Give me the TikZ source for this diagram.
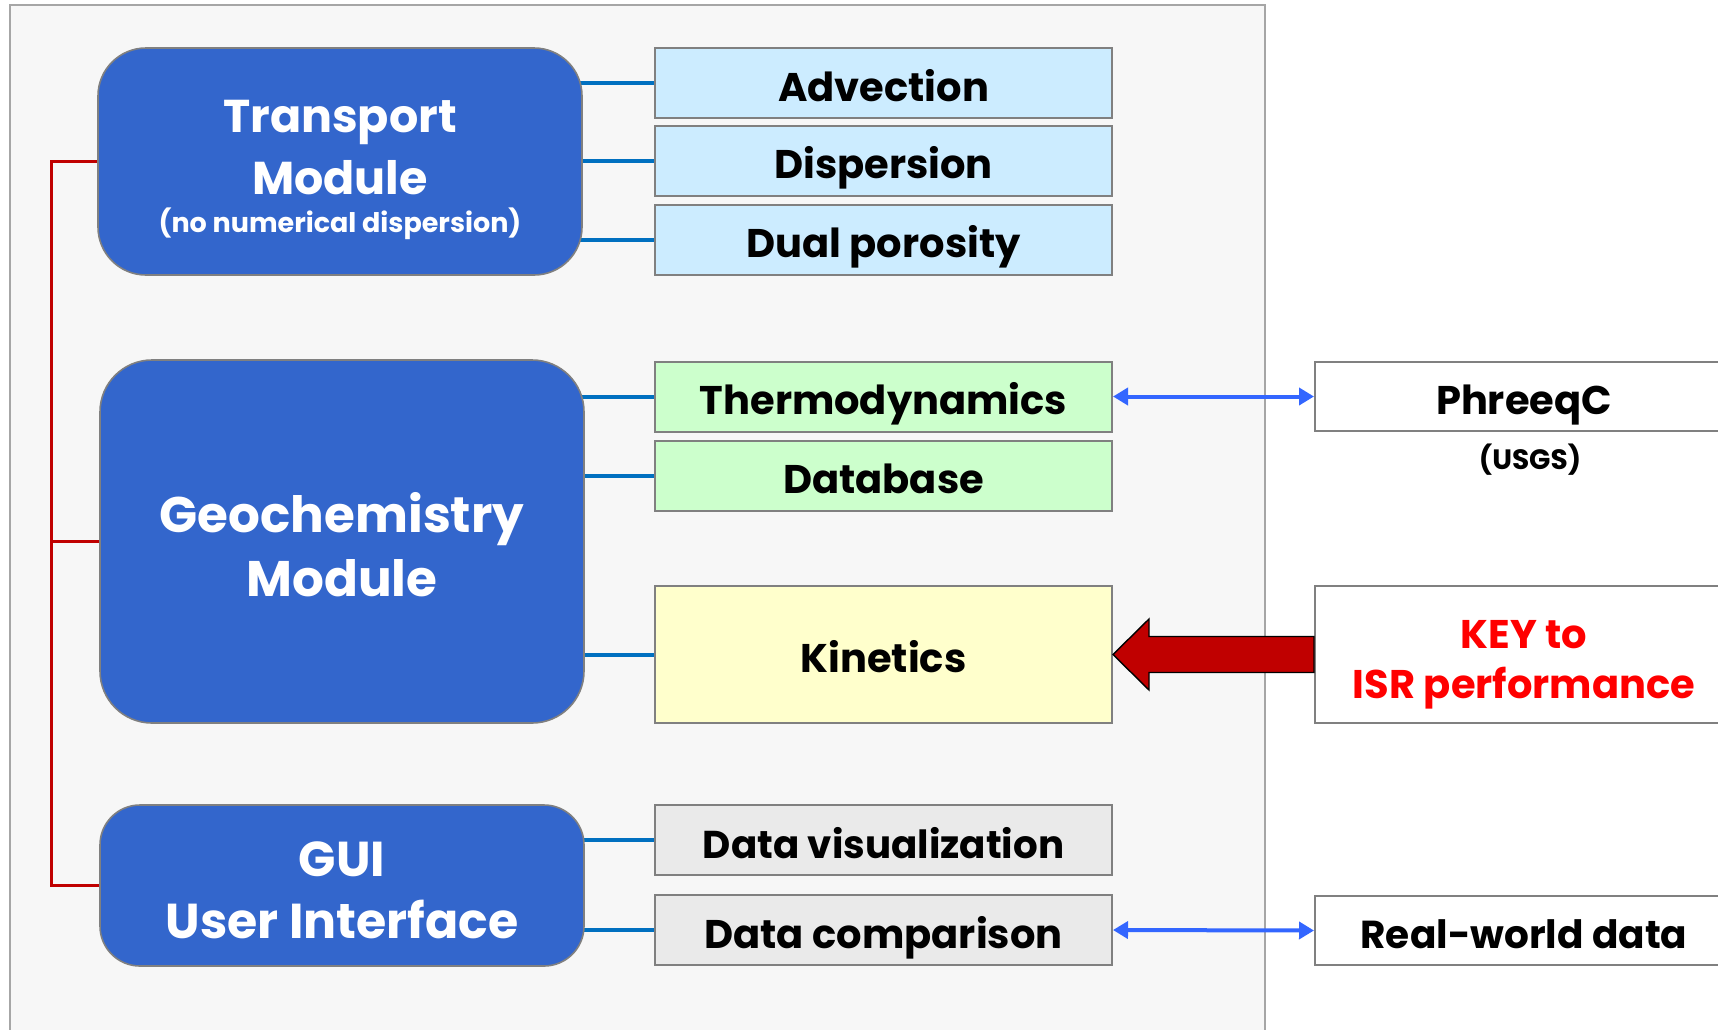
\documentclass[tikz,border=0pt]{standalone}
\usepackage{fontspec}
\setmainfont{Poppins}
\usetikzlibrary{calc,arrows.meta}
\definecolor{modfill}{HTML}{3366CC}
\definecolor{panelfill}{HTML}{F7F7F7}
\definecolor{panelline}{HTML}{A6A6A6}
\definecolor{boxline}{HTML}{808080}
\definecolor{blueA}{HTML}{CCECFF}
\definecolor{greenA}{HTML}{CCFFCC}
\definecolor{yellowA}{HTML}{FFFFCC}
\definecolor{grayA}{HTML}{EAEAEA}
\definecolor{connblue}{HTML}{0070C0}
\definecolor{arrblue}{HTML}{3366FF}
\definecolor{bracketred}{HTML}{C00000}
\pgfdeclarelayer{back}
\pgfdeclarelayer{conn}
\pgfsetlayers{back,conn,main}
\tikzset{
  module/.style={draw=boxline, line width=0.8pt, fill=modfill, text=white,
    align=center, inner sep=0pt, minimum width=242pt},
  item/.style={draw=boxline, line width=1pt, inner sep=0pt, text height=18pt, text depth=0pt,
    minimum width=228.5pt, minimum height=35pt, font=\fontsize{20}{24}\selectfont\bfseries},
  ext/.style={draw=boxline, line width=1pt, fill=white, inner sep=0pt,
    minimum width=209pt, minimum height=34.5pt, align=center},
  conn/.style={connblue, line width=2pt},
  brk/.style={bracketred, line width=1.5pt},
  dbl/.style={arrblue, line width=2pt, {Triangle[length=7.5pt,width=8.5pt]}-{Triangle[length=7.5pt,width=8.5pt]}},
}
\begin{document}
\begin{tikzpicture}[x=0.5pt,y=-0.5pt]
\useasboundingbox (0,0) rectangle (1718,1029);
% panel
\begin{pgfonlayer}{back}
\fill[white] (0,0) rectangle (1718,1029);
\draw[panelline, fill=panelfill, line width=0.8pt] (10,1045) -- (10,5) -- (1265,5) -- (1265,1045);
\end{pgfonlayer}
% modules
\node[module, minimum height=113.5pt, rounded corners=24pt,
  font=\fontsize{23}{31}\selectfont\bfseries] (tr) at (340,161.5)
  {\rule{0pt}{25pt}Transport\\Module\\[-12pt]{\fontsize{13.5}{16}\selectfont (no numerical dispersion)}};
\node[module, minimum height=181.5pt, rounded corners=26pt,
  font=\fontsize{25}{32}\selectfont\bfseries] (geo) at (342,541.5)
  {\rule{0pt}{23.5pt}Geochemistry\\Module};
\node[module, minimum height=80.5pt, rounded corners=20pt,
  font=\fontsize{24.5}{31}\selectfont\bfseries] (gui) at (342,885.5)
  {\rule{0pt}{22.5pt}GUI\\User Interface};
% items
\node[item, fill=blueA] (adv) at (883.5,83) {Advection};
\node[item, fill=blueA] (dis) at (883.5,160.5) {Dispersion};
\node[item, fill=blueA] (dual) at (883.5,239.5) {Dual porosity};
\node[item, fill=greenA] (thermo) at (883.5,396.5) {Thermodynamics};
\node[item, fill=greenA] (db) at (883.5,475.5) {Database};
\node[item, fill=yellowA, minimum height=68.5pt] (kin) at (883.5,654.5) {Kinetics};
\node[item, fill=grayA, font=\fontsize{19.4}{24}\selectfont\bfseries] (vis) at (883.5,840) {Data visualization};
\node[item, fill=grayA] (cmp) at (883.5,930) {Data comparison};
% external
\node[ext, text height=18pt, text depth=0pt, font=\fontsize{20}{25}\selectfont\bfseries] (phr) at (1524,396.5) {PhreeqC};
\node[font=\fontsize{14}{17}\selectfont\bfseries] (usgs) at (1530,460) {(USGS)};
\node[ext, minimum height=68.5pt, text=red, text depth=-5pt, font=\fontsize{20}{25}\selectfont\bfseries] (key) at (1524,654.5) {\rule{0pt}{18.5pt}KEY to\\ISR performance};
\node[ext, text height=18pt, text depth=0pt, font=\fontsize{19.5}{25}\selectfont\bfseries] (real) at (1524,930.5) {Real-world data};
% connectors
\begin{pgfonlayer}{conn}
\foreach \m/\b in {tr/adv,tr/dis,tr/dual,geo/thermo,geo/db,geo/kin,gui/vis,gui/cmp}
  \draw[conn] (\m.center |- \b.west) -- (\b.west);
\coordinate (rt) at (51,161.5);
\coordinate (rm) at (51,541.5);
\coordinate (rb) at (51,885.5);
\draw[brk] (tr.west) -- (rt) -- (rb) -- (gui.west);
\draw[brk] (rm) -- (geo.west);
\end{pgfonlayer}
\draw[dbl] (thermo.east) -- (phr.west);
\draw[dbl] (cmp.east) -- (real.west);
% block arrow
\draw[fill=bracketred, line width=0.7pt]
  (kin.east) -- ($(kin.east)+(36,-35.5)$) -- ($(kin.east)+(36,-18)$)
  -- ($(key.west)+(0,-18)$) -- ($(key.west)+(0,18)$)
  -- ($(kin.east)+(36,18)$) -- ($(kin.east)+(36,35.5)$) -- cycle;
\end{tikzpicture}
\end{document}
